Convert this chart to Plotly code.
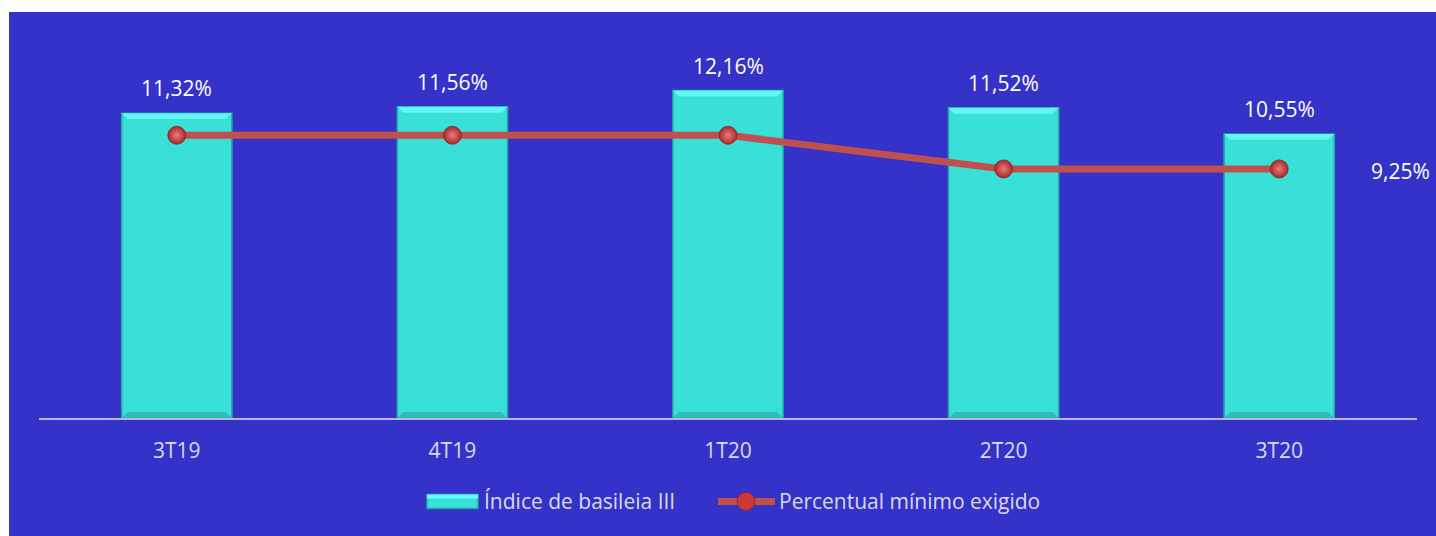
import plotly.graph_objects as go

categories = ["3T19", "4T19", "1T20", "2T20", "3T20"]
basileia = [11.32, 11.56, 12.16, 11.52, 10.55]
minimo = [10.5, 10.5, 10.5, 9.25, 9.25]
legend_names = ["Índice de basileia III", "Percentual mínimo exigido"]

BG = "#3432C8"
BAR = "#38E0D8"
LINE = "#C0504D"
LBL = "#DADAEA"
FONT = "Open Sans"

def fmt(v):
    return f"{v:.2f}".replace(".", ",") + "%"

W, H = 1436, 536
L, R, T, B = 39, 19, 41, 117.5
pw, ph = W - L - R, H - T - B

def px(x):
    return (x - L) / pw

def py(y):
    return (H - B - y) / ph

fig = go.Figure()
fig.add_trace(go.Bar(
    x=categories, y=basileia, name=legend_names[0], width=0.4,
    marker=dict(color=BAR, line=dict(color="#24A8A2", width=1.5)),
))
fig.add_trace(go.Scatter(
    x=categories, y=minimo, name=legend_names[1], mode="lines+markers",
    line=dict(color=LINE, width=7),
    marker=dict(size=18, color="#A82828", gradient=dict(type="radial", color="#EE7C7C"),
                line=dict(color="#8E2020", width=0.8)),
))

shapes = [dict(type="rect", xref="paper", yref="paper", layer="below",
               x0=px(9), x1=px(W + 2), y0=py(H + 2), y1=py(12),
               fillcolor=BG, line=dict(width=0))]

# bevel highlights on top / shade at bottom of each bar (from the data)
hw, dx, dy = 0.2, 0.022, 0.22
for i, v in enumerate(basileia):
    shapes.append(dict(type="path", xref="x", yref="y", layer="above",
                       path=f"M {i-hw},{v} L {i+hw},{v} L {i+hw-dx},{v-dy} L {i-hw+dx},{v-dy} Z",
                       fillcolor="#62F6F6", line=dict(width=0)))
    shapes.append(dict(type="path", xref="x", yref="y", layer="above",
                       path=f"M {i-hw},0 L {i+hw},0 L {i+hw-dx},{dy} L {i-hw+dx},{dy} Z",
                       fillcolor="#2FBDB6", line=dict(width=0)))

# custom legend (swatches + text)
shapes.append(dict(type="rect", xref="paper", yref="paper", x0=px(427), x1=px(478),
                   y0=py(509), y1=py(495), fillcolor=BAR, line=dict(color="#24A8A2", width=1.5)))
shapes.append(dict(type="rect", xref="paper", yref="paper", x0=px(427), x1=px(478),
                   y0=py(499), y1=py(495), fillcolor="#66FFFF", line=dict(width=0)))
shapes.append(dict(type="line", xref="paper", yref="paper", x0=px(718), x1=px(775),
                   y0=py(502), y1=py(502), line=dict(color=LINE, width=7)))
shapes.append(dict(type="circle", xref="paper", yref="paper", x0=px(737), x1=px(755),
                   y0=py(511), y1=py(493), fillcolor="#C83838", line=dict(color="#A02424", width=1)))

annotations = []
for c, v in zip(categories, basileia):
    annotations.append(dict(x=c, y=v, text=fmt(v), showarrow=False, yshift=25,
                            font=dict(size=21, color="white", family=FONT)))
annotations.append(dict(x=categories[-1], y=minimo[-1], text=fmt(minimo[-1]), showarrow=False,
                        xanchor="left", xshift=90, yshift=-2,
                        font=dict(size=21, color="white", family=FONT)))
annotations.append(dict(xref="paper", yref="paper", x=px(482), y=py(502), text=legend_names[0],
                        showarrow=False, xanchor="left", yanchor="middle",
                        font=dict(size=21, color=LBL, family=FONT)))
annotations.append(dict(xref="paper", yref="paper", x=px(777), y=py(502), text=legend_names[1],
                        showarrow=False, xanchor="left", yanchor="middle",
                        font=dict(size=21, color=LBL, family=FONT)))

fig.update_layout(
    width=W, height=H,
    margin=dict(l=L, r=R, t=T, b=B, pad=0),
    paper_bgcolor="white", plot_bgcolor="rgba(0,0,0,0)",
    shapes=shapes, annotations=annotations,
    showlegend=False,
    xaxis=dict(range=[-0.5, 4.5], showgrid=False, zeroline=False, showline=True,
               linecolor="rgba(205,205,235,0.85)", linewidth=2, ticks="",
               tickfont=dict(size=21, color=LBL, family=FONT), ticklabelstandoff=13),
    yaxis=dict(range=[0, 14], showgrid=False, zeroline=False, showline=False,
               showticklabels=False),
    hovermode=False,
    font=dict(family=FONT),
)

fig.write_html("out.html", config={"displayModeBar": False},
               post_script="document.body.style.margin='0';document.body.style.padding='0';")
